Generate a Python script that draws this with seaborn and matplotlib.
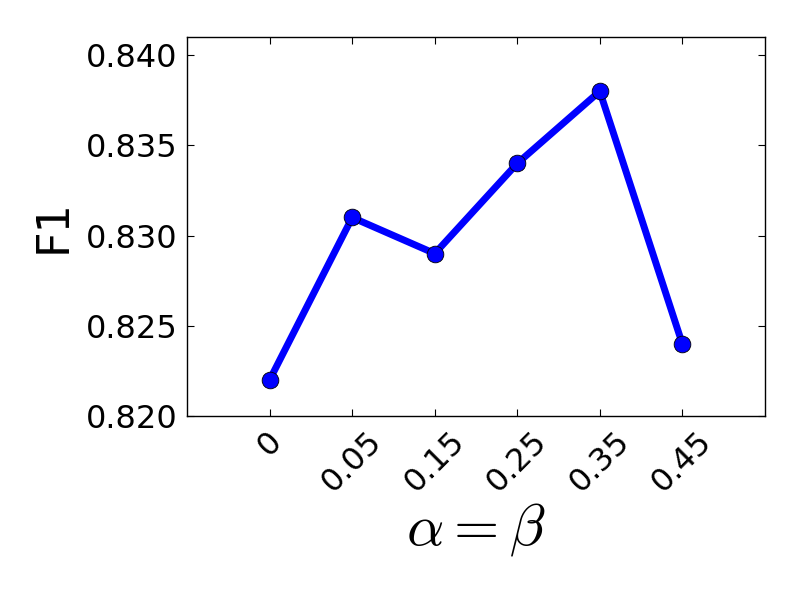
import matplotlib
matplotlib.use("Agg")
import matplotlib.pyplot as plt
import seaborn as sns
import pandas as pd

categories = ["0", "0.05", "0.15", "0.25", "0.35", "0.45"]
f1_values = [0.822, 0.831, 0.829, 0.834, 0.838, 0.824]
y_ticks = [0.820, 0.825, 0.830, 0.835, 0.840]

sns.set_style("white")
plt.rcParams["font.family"] = ["DejaVu Sans"]
plt.rcParams["mathtext.fontset"] = "cm"
plt.rcParams["text.color"] = "black"
plt.rcParams["axes.labelcolor"] = "black"
plt.rcParams["xtick.color"] = "black"
plt.rcParams["ytick.color"] = "black"

df = pd.DataFrame({"pos": list(range(len(categories))), "f1": f1_values})

fig = plt.figure(figsize=(8, 6), dpi=100)
ax = fig.add_axes([0.234, 0.307, 0.722, 0.631])
sns.lineplot(data=df, x="pos", y="f1", ax=ax, color=(0, 0, 1), linewidth=5,
             marker="o", markersize=12, markeredgecolor="black",
             markeredgewidth=0.6, markerfacecolor=(0, 0, 1))

ax.set_xlim(-1, 6)
ax.set_ylim(0.820, 0.841)
ax.set_xticks(range(len(categories)))
ax.set_xticklabels(categories, rotation=45, fontsize=23)
ax.set_yticks(y_ticks)
ax.set_yticklabels([f"{v:.3f}" for v in y_ticks], fontsize=23)
ax.tick_params(direction="in", length=5, width=0.8, top=True, right=True,
               bottom=True, left=True, colors="black", labelcolor="black", pad=7)
for s in ax.spines.values():
    s.set_visible(True)
    s.set_color("black")
    s.set_linewidth(1.0)
ax.set_xlabel(r"$\alpha=\beta$", fontsize=42, color="black", labelpad=2)
ax.set_ylabel("F1", fontsize=32, color="black", labelpad=8)
ax.grid(False)

fig.savefig("out.png", dpi=100, facecolor="white")
